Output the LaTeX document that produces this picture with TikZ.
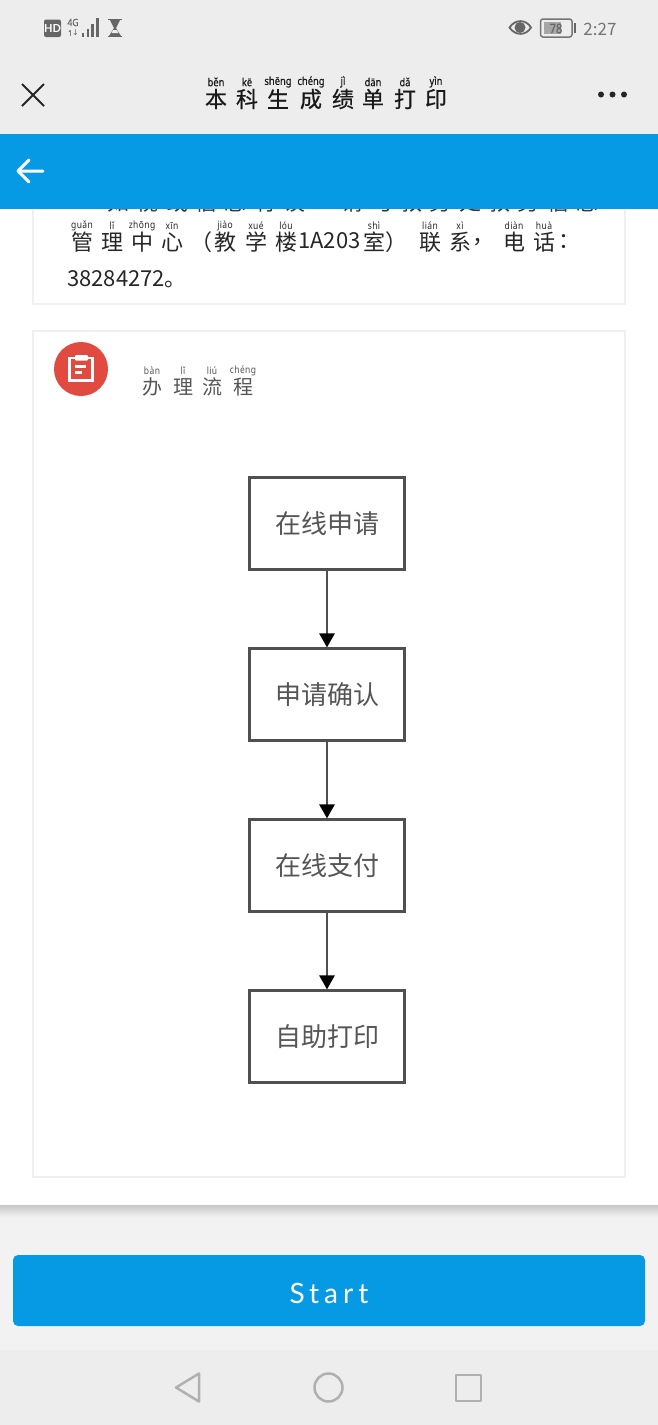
\documentclass[tikz,border=0pt]{standalone}
\usepackage{fontspec}
\usetikzlibrary{arrows.meta,shadings}
\setmainfont{Noto Sans CJK SC}
\newfontfamily\cjk{Noto Sans CJK SC}
\newfontfamily\cjkb[FakeBold=0.6]{Noto Sans CJK SC}
\newfontfamily\pyf[FakeStretch=0.85,LetterSpace=4]{Noto Sans}
\newfontfamily\pyb[FakeStretch=0.85,FakeBold=0.5]{Noto Sans}
\newfontfamily\latn[LetterSpace=18]{Lato}
\newfontfamily\latnp{Lato}
\newfontfamily\arrowf{DejaVu Sans}
\definecolor{topgray}{HTML}{EDEDED}
\definecolor{lowgray}{HTML}{F2F2F2}
\definecolor{bluebar}{HTML}{069AE4}
\definecolor{cardline}{HTML}{F0F0F0}
\definecolor{flowline}{HTML}{505050}
\definecolor{flowtext}{HTML}{555555}
\definecolor{navgray}{HTML}{B0B0B0}
\definecolor{statgray}{HTML}{666666}
\definecolor{iconred}{HTML}{E04A3F}
% #1 x, #2 glyph y, #3 pinyin y, #4 pinyin, #5 glyph, #6 glyph size, #7 pinyin size, #8 colour
\newcommand{\rubych}[8]{%
  \node[anchor=center,inner sep=0pt,text=#8] (g-#1-#2) at (#1,#2) {\fontsize{#6}{#6}\selectfont\cjk #5};
  \node[anchor=center,inner sep=0pt,text=#8] (p-#1-#2) at (#1,#3) {\fontsize{#7}{#7}\selectfont\pyf #4};
}
\newcommand{\titlech}[5]{%
  \node[anchor=center,inner sep=0pt,text=black!90] (g-#1-#2) at (#1,#2) {\fontsize{22}{22}\selectfont\cjkb #5};
  \node[anchor=center,inner sep=0pt,text=black!90] (p-#1-#2) at (#1,#3) {\fontsize{11}{11}\selectfont\pyb #4};
}
\newcommand{\plainch}[5]{%
  \node[anchor=center,inner sep=0pt,text=#5] (g-#1-#2) at (#1,#2) {\fontsize{#4}{#4}\selectfont\cjk #3};
}
\tikzset{
  flowbox/.style={draw=flowline,line width=2.1pt,fill=white,minimum width=155pt,minimum height=92pt,inner sep=0pt,outer sep=1.05pt,text=flowtext,font=\fontsize{26}{26}\selectfont\cjk},
  flowarrow/.style={draw=flowline,line width=2.6pt,-{Triangle[length=14pt,width=15pt,color=black]}},
  card/.style={draw=cardline,line width=1.5pt,fill=white},
  navicon/.style={draw=navgray,line width=2.5pt,line join=round},
  stat/.style={inner sep=0pt,text=statgray}
}
\begin{document}
\begin{tikzpicture}[x=1pt,y=-1pt]
\useasboundingbox (0,0) rectangle (658,1425);
% backgrounds
\fill[lowgray] (0,0) rectangle (658,1425);
\fill[white] (0,200) rectangle (658,1205);
\shade[top color=black!22,bottom color=lowgray] (0,1205) rectangle (658,1217);
\draw[card] (33,150) rectangle (625,304);
\draw[card] (33,331) rectangle (625,1177);
% clipped first line of the paragraph
\foreach \xx/\ch in {118/如,147/视,177/或,206/信,235/息,265/有,294/误,323/，,352/请,382/与,411/教,440/务,470/处,499/教,528/务,558/信,587/息}{
  \plainch{\xx}{202}{\ch}{22}{black!80}
}
% top bars
\fill[topgray] (0,0) rectangle (658,134);
\fill[bluebar] (0,134) rectangle (658,209);
% status bar
\fill[statgray,rounded corners=2pt] (44,19.5) rectangle (61,37);
\node[inner sep=0pt,text=white] (hd) at (52.5,28.5) {\fontsize{11}{11}\selectfont\latnp\bfseries HD};
\node[stat] (fourg) at (73,22.5) {\fontsize{10}{10}\selectfont\pyb 4G};
\node[stat] (updown) at (73.5,33) {\fontsize{8}{8}\selectfont\pyb 1\arrowf↓};
\fill[statgray] (81.5,33) rectangle (84,36.5);
\fill[statgray] (86.5,29) rectangle (89,36.5);
\fill[statgray] (91,24) rectangle (93.5,36.5);
\fill[statgray] (95.5,17.5) rectangle (98.5,36.5);
\draw[statgray,line width=1.5pt] (108,19.5) -- (122,19.5);
\draw[statgray,line width=1.5pt] (108,36.5) -- (122,36.5);
\fill[statgray] (110,20) -- (120,20) -- (116,28) -- (121,36) -- (109,36) -- (114,28) -- cycle;
\fill[topgray] (113,30) -- (117,30) -- (118.5,33) -- (111.5,33) -- cycle;
\draw[statgray,line width=1.8pt] (509.5,27.5) .. controls (515,19) and (526,19) .. (531,27.5) .. controls (526,36) and (515,36) .. (509.5,27.5) -- cycle;
\fill[statgray] (520,27.5) circle (5.5);
\draw[statgray!90,line width=1.5pt,rounded corners=2.5pt] (540.5,19) rectangle (572,37);
\fill[black!35] (544,22) rectangle (561,34);
\fill[statgray] (573.5,23) rectangle (575.5,33);
\node[stat] (batt) at (556,28.5) {\fontsize{13}{13}\selectfont\pyb 78};
\node[stat,text=black!55] (clock) at (600,29) {\fontsize{17}{17}\selectfont\cjk 2:27};
% title bar
\draw[black!85,line width=2pt] (22,84) -- (44,106) (44,84) -- (22,106);
\fill[black!85] (601,94.5) circle (3) (612.5,94.5) circle (3) (624,94.5) circle (3);
\foreach \xx/\pin/\ch in {216/běn/本,247/kē/科,278/shēng/生,311/chéng/成,343/jì/绩,373/dān/单,405/dǎ/打,436/yìn/印}{
  \titlech{\xx}{99}{82}{\pin}{\ch}
}
% back arrow
\draw[white,line width=3pt,line cap=round,line join=round] (43,171) -- (18,171) (29,160) -- (18,171) -- (29,182);
% paragraph
\foreach \xx/\pin/\ch in {82/guǎn/管,112/lǐ/理,142/zhōng/中,172/xīn/心,225/jiào/教,256/xué/学,286/lóu/楼,374/shì/室,430/lián/联,460/xì/系,514/diàn/电,544/huà/话}{
  \rubych{\xx}{242}{226}{\pin}{\ch}{22}{10}{black!85}
}
\plainch{201}{242}{（}{22}{black!85}
\plainch{396}{242}{）}{22}{black!85}
\plainch{483}{242}{，}{22}{black!85}
\plainch{569}{242}{：}{22}{black!85}
\plainch{329.5}{241}{1A203}{22}{black!85}
\node[anchor=west,inner sep=0pt,text=black!85] (phone) at (67,279) {\fontsize{22}{22}\selectfont\cjk 38284272。};
% section heading
\fill[iconred] (81,369) circle (27);
\draw[white,line width=2.8pt] (69.5,358) rectangle (92.5,380.5);
\fill[white,rounded corners=1pt] (75,355) rectangle (88,360.5);
\draw[white,line width=2.4pt] (75,366.5) -- (86,366.5) (75,372.5) -- (82,372.5);
\foreach \xx/\pin/\ch in {152/bàn/办,183/lǐ/理,212/liú/流,243/chéng/程}{
  \rubych{\xx}{387}{371}{\pin}{\ch}{20}{10}{flowtext}
}
% flow chart
\node[flowbox] (a) at (327,523.5) {在线申请};
\node[flowbox] (b) at (327,694.5) {申请确认};
\node[flowbox] (c) at (327,865.5) {在线支付};
\node[flowbox] (d) at (327,1036.5) {自助打印};
\draw[flowarrow] (a) -- (b);
\draw[flowarrow] (b) -- (c);
\draw[flowarrow] (c) -- (d);
% start button
\fill[bluebar,rounded corners=5pt] (13,1255) rectangle (645,1326);
\node[inner sep=0pt,text=white,font=\fontsize{28}{28}\selectfont\latn] (start) at (329,1293) {Start};
% nav bar
\fill[topgray] (0,1350) rectangle (658,1425);
\draw[navicon] (199,1373.5) -- (199,1401.5) -- (176,1387.5) -- cycle;
\draw[navicon] (328.5,1387.5) ellipse (14 and 14);
\draw[navicon] (456,1375) rectangle (481,1401);
\end{tikzpicture}
\end{document}
